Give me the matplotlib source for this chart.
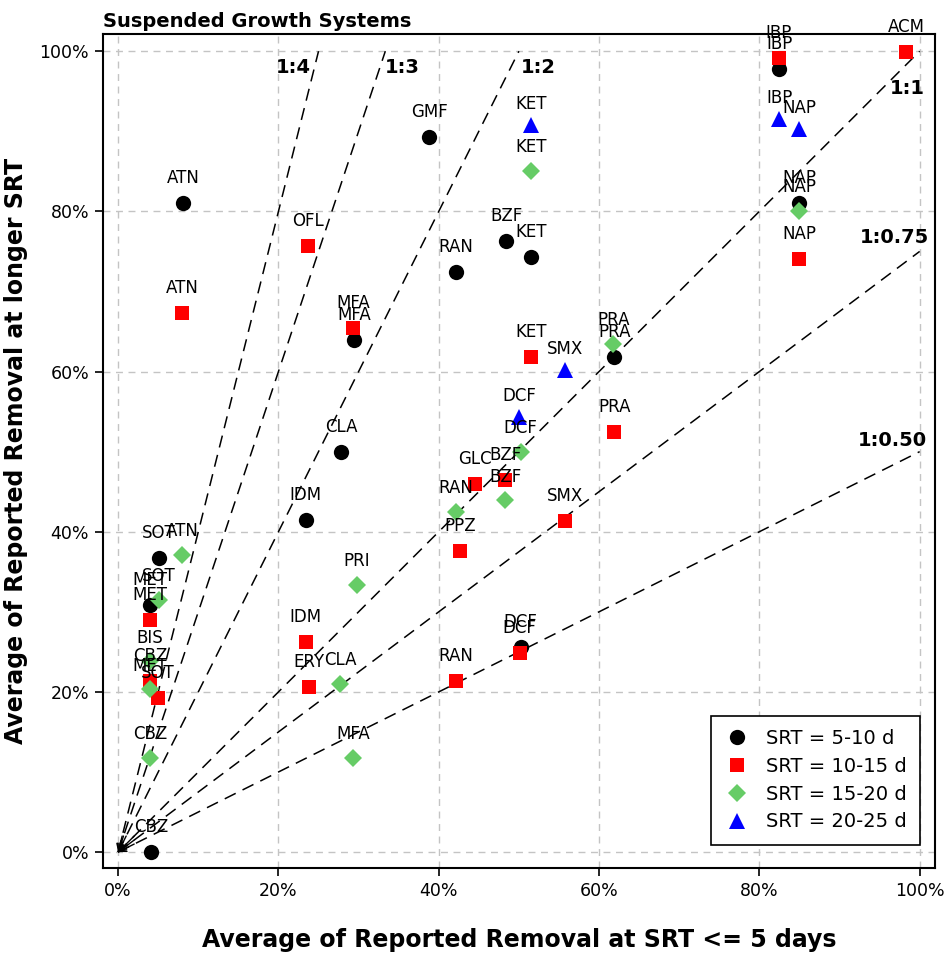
import numpy as np
import matplotlib
matplotlib.use('Agg')
import matplotlib.pyplot as plt
from matplotlib.ticker import FuncFormatter

plt.rcParams['font.family'] = ['DejaVu Sans']

# SRT = 5-10 d
srt1_names = ['ATN', 'GMF', 'BZF', 'KET', 'RAN', 'MFA', 'CLA', 'IDM', 'SOT', 'MET', 'CBZ', 'DCF', 'PRA', 'IBP', 'NAP']
srt1_x = [8.1, 38.8, 48.4, 51.5, 42.1, 29.4, 27.8, 23.4, 5.1, 4.0, 4.1, 50.2, 61.9, 82.5, 85.0]
srt1_y = [81.1, 89.3, 76.3, 74.3, 72.4, 63.9, 50.0, 41.5, 36.7, 30.9, 0.0, 25.6, 61.8, 97.8, 81.0]

# SRT = 10-15 d
srt2_names = ['IBP', 'ACM', 'NAP', 'OFL', 'ATN', 'MFA', 'KET', 'PRA', 'GLC', 'BZF', 'SMX', 'PPZ', 'IDM', 'ERY', 'RAN', 'DCF', 'MET', 'CBZ', 'SOT']
srt2_x = [82.4, 98.3, 85.0, 23.7, 8.0, 29.3, 51.5, 61.9, 44.5, 48.3, 55.7, 42.7, 23.4, 23.8, 42.1, 50.1, 4.0, 4.0, 5.0]
srt2_y = [99.1, 99.9, 74.0, 75.7, 67.3, 65.5, 61.8, 52.4, 46.0, 46.4, 41.4, 37.6, 26.2, 20.6, 21.3, 24.8, 29.0, 21.4, 19.3]

# SRT = 15-20 d
srt3_names = ['KET', 'NAP', 'PRA', 'DCF', 'BZF', 'RAN', 'PRI', 'CLA', 'MFA', 'ATN', 'SOT', 'BIS', 'MET', 'CBZ']
srt3_x = [51.5, 85.0, 61.8, 50.2, 48.3, 42.1, 29.8, 27.7, 29.3, 8.0, 5.1, 4.0, 4.0, 4.0]
srt3_y = [85.1, 80.1, 63.5, 50.0, 43.9, 42.5, 33.4, 21.0, 11.8, 37.1, 31.5, 23.8, 20.3, 11.8]

# SRT = 20-25 d
srt4_names = ['KET', 'IBP', 'NAP', 'SMX', 'DCF']
srt4_x = [51.5, 82.5, 85.0, 55.7, 50.0]
srt4_y = [90.8, 91.5, 90.3, 60.2, 54.3]

# ratio lines: label, end point, label position
ratio_labels = ['1:4', '1:3', '1:2', '1:1', '1:0.75', '1:0.50']
ratio_end_x = [25, 100 / 3, 50, 100, 100, 100]
ratio_end_y = [100, 100, 100, 100, 75, 50]
ratio_lab_x = [21.8, 35.5, 52.4, 98.5, 96.9, 96.6]
ratio_lab_y = [98.0, 98.0, 98.0, 95.3, 76.8, 51.4]

fig = plt.figure(figsize=(9.53, 9.55), dpi=100)
ax = fig.add_axes([0.108, 0.091, 0.873, 0.873])

ax.set_xlim(-1.9, 101.9)
ax.set_ylim(-2.0, 102.1)
ticks = [0, 20, 40, 60, 80, 100]
ax.set_xticks(ticks)
ax.set_yticks(ticks)
pct = FuncFormatter(lambda v, p: '%d%%' % v)
ax.xaxis.set_major_formatter(pct)
ax.yaxis.set_major_formatter(pct)
ax.tick_params(labelsize=12.5, length=6, width=1.2, direction='out', pad=4)
ax.grid(True, color='#c4c4c4', linestyle=(0, (5, 4)), linewidth=1)
ax.set_axisbelow(True)
for s in ax.spines.values():
    s.set_linewidth(1.5)

# dashed ratio lines with arrowheads at the origin
for lab, ex, ey, lx, ly in zip(ratio_labels, ratio_end_x, ratio_end_y, ratio_lab_x, ratio_lab_y):
    ax.plot([0, ex], [0, ey], color='black', linestyle=(0, (8, 5)), linewidth=1.1, zorder=2)
    ax.annotate('', xy=(0, 0), xytext=(ex * 0.02, ey * 0.02),
                arrowprops=dict(arrowstyle='->', color='black', lw=1.0, mutation_scale=12,
                                shrinkA=0, shrinkB=0), zorder=2)
    ax.text(lx, ly, lab, fontsize=14, fontweight='bold', ha='center', va='center', zorder=5)

series = [
    (srt1_names, srt1_x, srt1_y, 'o', 'black', 11, 'SRT = 5-10 d', 18),
    (srt2_names, srt2_x, srt2_y, 's', '#ff0000', 10, 'SRT = 10-15 d', 18),
    (srt3_names, srt3_x, srt3_y, 'D', '#66cc66', 9, 'SRT = 15-20 d', 17),
    (srt4_names, srt4_x, srt4_y, '^', '#0000ff', 12, 'SRT = 20-25 d', 15),
]

for names, xs, ys, m, c, ms, lab, off in series:
    ax.plot(xs, ys, linestyle='none', marker=m, color=c, markersize=ms,
            markeredgewidth=0, label=lab, zorder=3, clip_on=False)
    for n, x, y in zip(names, xs, ys):
        ax.annotate(n, (x, y), xytext=(0, off), textcoords='offset points',
                    ha='center', va='center', fontsize=12, zorder=4)

leg = ax.legend(loc='lower right', bbox_to_anchor=(0.994, 0.016), fontsize=14,
                frameon=True, fancybox=False, edgecolor='black', framealpha=1,
                handletextpad=0.9, borderpad=0.7, labelspacing=0.45, handlelength=1.2)
leg.get_frame().set_linewidth(1.2)

ax.set_xlabel('Average of Reported Removal at SRT <= 5 days', fontsize=17,
              fontweight='bold', labelpad=20)
ax.set_ylabel('Average of Reported Removal at longer SRT', fontsize=17,
              fontweight='bold', labelpad=8)
ax.set_title('Suspended Growth Systems', loc='left', fontsize=14,
             fontweight='bold', pad=5)

fig.savefig('out.png', dpi=100)
